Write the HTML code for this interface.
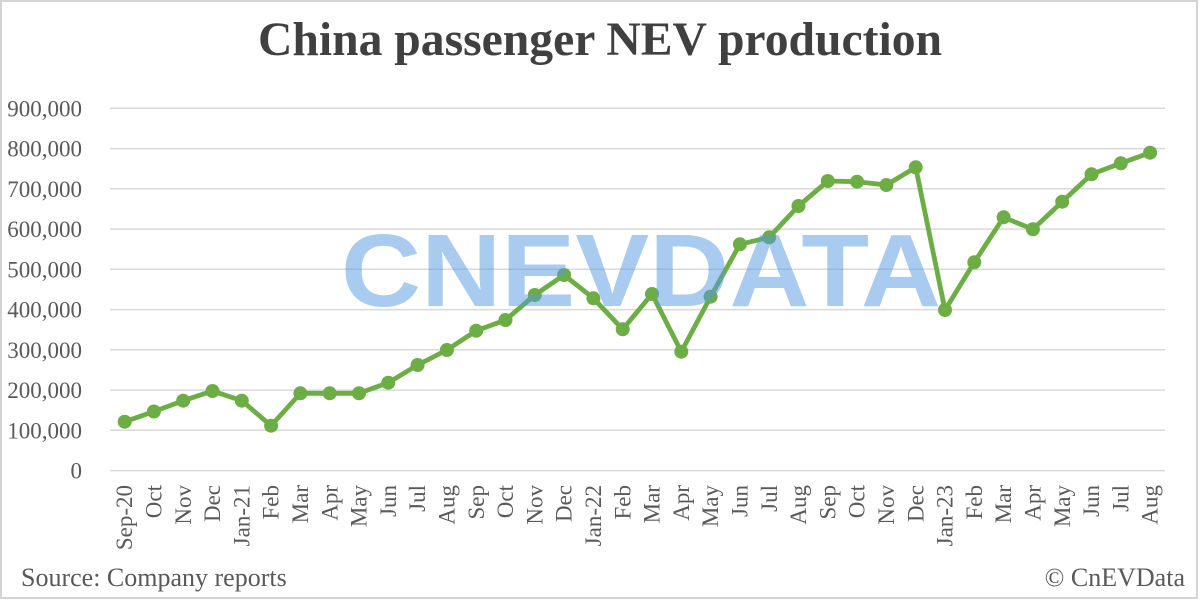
<!DOCTYPE html>
<html>
<head>
<meta charset="utf-8">
<style>
  html, body { margin:0; padding:0; background:#fff; }
  svg { display:block; }
  .t { font-family:"Liberation Serif","Times New Roman",serif; }
</style>
</head>
<body>
<svg width="1200" height="601" viewBox="0 0 1200 601" xmlns="http://www.w3.org/2000/svg">
  <rect x="0" y="0" width="1200" height="601" fill="#fff"/>
  <rect x="1" y="1" width="1196" height="597" fill="none" stroke="#D4D4D4" stroke-width="2"/>

  <!-- Title -->
  <text class="t" x="600" y="55" text-anchor="middle" font-size="48" font-weight="bold" fill="#404040" textLength="684" lengthAdjust="spacingAndGlyphs">China passenger NEV production</text>

  <!-- Gridlines -->
  <g stroke="#D9D9D9" stroke-width="1.5">
    <line x1="110" x2="1165" y1="108.3" y2="108.3"/>
    <line x1="110" x2="1165" y1="148.6" y2="148.6"/>
    <line x1="110" x2="1165" y1="188.8" y2="188.8"/>
    <line x1="110" x2="1165" y1="229.1" y2="229.1"/>
    <line x1="110" x2="1165" y1="269.3" y2="269.3"/>
    <line x1="110" x2="1165" y1="309.6" y2="309.6"/>
    <line x1="110" x2="1165" y1="349.8" y2="349.8"/>
    <line x1="110" x2="1165" y1="390.1" y2="390.1"/>
    <line x1="110" x2="1165" y1="430.3" y2="430.3"/>
    <line x1="110" x2="1165" y1="470.6" y2="470.6"/>
  </g>

  <!-- Y labels -->
  <g class="t" font-size="23" fill="#595959" text-anchor="end">
    <text x="82" y="116.3">900,000</text>
    <text x="82" y="156.6">800,000</text>
    <text x="82" y="196.8">700,000</text>
    <text x="82" y="237.1">600,000</text>
    <text x="82" y="277.3">500,000</text>
    <text x="82" y="317.6">400,000</text>
    <text x="82" y="357.8">300,000</text>
    <text x="82" y="398.1">200,000</text>
    <text x="82" y="438.3">100,000</text>
    <text x="82" y="478.6">0</text>
  </g>

  <!-- X labels -->
  <g class="t" font-size="23" fill="#595959" text-anchor="end">
    <text transform="translate(132.2,485) rotate(-90)">Sep-20</text>
    <text transform="translate(161.5,485) rotate(-90)">Oct</text>
    <text transform="translate(190.8,485) rotate(-90)">Nov</text>
    <text transform="translate(220.1,485) rotate(-90)">Dec</text>
    <text transform="translate(249.4,485) rotate(-90)">Jan-21</text>
    <text transform="translate(278.7,485) rotate(-90)">Feb</text>
    <text transform="translate(308.0,485) rotate(-90)">Mar</text>
    <text transform="translate(337.3,485) rotate(-90)">Apr</text>
    <text transform="translate(366.6,485) rotate(-90)">May</text>
    <text transform="translate(395.9,485) rotate(-90)">Jun</text>
    <text transform="translate(425.2,485) rotate(-90)">Jul</text>
    <text transform="translate(454.5,485) rotate(-90)">Aug</text>
    <text transform="translate(483.8,485) rotate(-90)">Sep</text>
    <text transform="translate(513.1,485) rotate(-90)">Oct</text>
    <text transform="translate(542.4,485) rotate(-90)">Nov</text>
    <text transform="translate(571.7,485) rotate(-90)">Dec</text>
    <text transform="translate(601.0,485) rotate(-90)">Jan-22</text>
    <text transform="translate(630.3,485) rotate(-90)">Feb</text>
    <text transform="translate(659.6,485) rotate(-90)">Mar</text>
    <text transform="translate(688.9,485) rotate(-90)">Apr</text>
    <text transform="translate(718.2,485) rotate(-90)">May</text>
    <text transform="translate(747.5,485) rotate(-90)">Jun</text>
    <text transform="translate(776.8,485) rotate(-90)">Jul</text>
    <text transform="translate(806.1,485) rotate(-90)">Aug</text>
    <text transform="translate(835.4,485) rotate(-90)">Sep</text>
    <text transform="translate(864.7,485) rotate(-90)">Oct</text>
    <text transform="translate(894.0,485) rotate(-90)">Nov</text>
    <text transform="translate(923.3,485) rotate(-90)">Dec</text>
    <text transform="translate(952.6,485) rotate(-90)">Jan-23</text>
    <text transform="translate(981.9,485) rotate(-90)">Feb</text>
    <text transform="translate(1011.2,485) rotate(-90)">Mar</text>
    <text transform="translate(1040.5,485) rotate(-90)">Apr</text>
    <text transform="translate(1069.8,485) rotate(-90)">May</text>
    <text transform="translate(1099.1,485) rotate(-90)">Jun</text>
    <text transform="translate(1128.4,485) rotate(-90)">Jul</text>
    <text transform="translate(1157.7,485) rotate(-90)">Aug</text>
  </g>

  <!-- Series -->
  <g fill="#6DAD46" stroke="#6DAD46">
    <polyline fill="none" stroke-width="4.8" stroke-linejoin="round" points="124.7,421.7 153.9,411.5 183.2,400.7 212.5,391 241.8,400.7 271.1,425.7 300.4,393.3 329.7,393.3 359,393.3 388.3,382.7 417.6,365 446.9,350 476.2,330.7 505.5,320 534.8,295 564.1,275 593.4,298.3 622.7,329.3 652,294 681.3,351.7 710.6,296.7 739.9,244.3 769.2,237.3 798.5,206 827.8,181 857.1,181.7 886.4,185 915.7,167.3 945,310 974.3,262.3 1003.6,217.3 1032.9,229.3 1062.2,201.7 1091.5,174.3 1120.8,163.3 1150.1,152.7"/>
    <g stroke="none">
      <circle cx="124.7" cy="421.7" r="7"/>
      <circle cx="153.9" cy="411.5" r="7"/>
      <circle cx="183.2" cy="400.7" r="7"/>
      <circle cx="212.5" cy="391" r="7"/>
      <circle cx="241.8" cy="400.7" r="7"/>
      <circle cx="271.1" cy="425.7" r="7"/>
      <circle cx="300.4" cy="393.3" r="7"/>
      <circle cx="329.7" cy="393.3" r="7"/>
      <circle cx="359" cy="393.3" r="7"/>
      <circle cx="388.3" cy="382.7" r="7"/>
      <circle cx="417.6" cy="365" r="7"/>
      <circle cx="446.9" cy="350" r="7"/>
      <circle cx="476.2" cy="330.7" r="7"/>
      <circle cx="505.5" cy="320" r="7"/>
      <circle cx="534.8" cy="295" r="7"/>
      <circle cx="564.1" cy="275" r="7"/>
      <circle cx="593.4" cy="298.3" r="7"/>
      <circle cx="622.7" cy="329.3" r="7"/>
      <circle cx="652" cy="294" r="7"/>
      <circle cx="681.3" cy="351.7" r="7"/>
      <circle cx="710.6" cy="296.7" r="7"/>
      <circle cx="739.9" cy="244.3" r="7"/>
      <circle cx="769.2" cy="237.3" r="7"/>
      <circle cx="798.5" cy="206" r="7"/>
      <circle cx="827.8" cy="181" r="7"/>
      <circle cx="857.1" cy="181.7" r="7"/>
      <circle cx="886.4" cy="185" r="7"/>
      <circle cx="915.7" cy="167.3" r="7"/>
      <circle cx="945" cy="310" r="7"/>
      <circle cx="974.3" cy="262.3" r="7"/>
      <circle cx="1003.6" cy="217.3" r="7"/>
      <circle cx="1032.9" cy="229.3" r="7"/>
      <circle cx="1062.2" cy="201.7" r="7"/>
      <circle cx="1091.5" cy="174.3" r="7"/>
      <circle cx="1120.8" cy="163.3" r="7"/>
      <circle cx="1150.1" cy="152.7" r="7"/>
    </g>
  </g>

  <!-- Watermark -->
  <text x="341" y="306" font-family="Liberation Sans, Arial, sans-serif" font-weight="bold" font-size="103" fill="#5599E0" opacity="0.5" textLength="600" lengthAdjust="spacingAndGlyphs">CNEVDATA</text>

  <!-- Footer -->
  <text class="t" x="21" y="586" font-size="26" fill="#595959">Source: Company reports</text>
  <text class="t" x="1185" y="586" font-size="26" fill="#595959" text-anchor="end">© CnEVData</text>
</svg>
</body>
</html>
